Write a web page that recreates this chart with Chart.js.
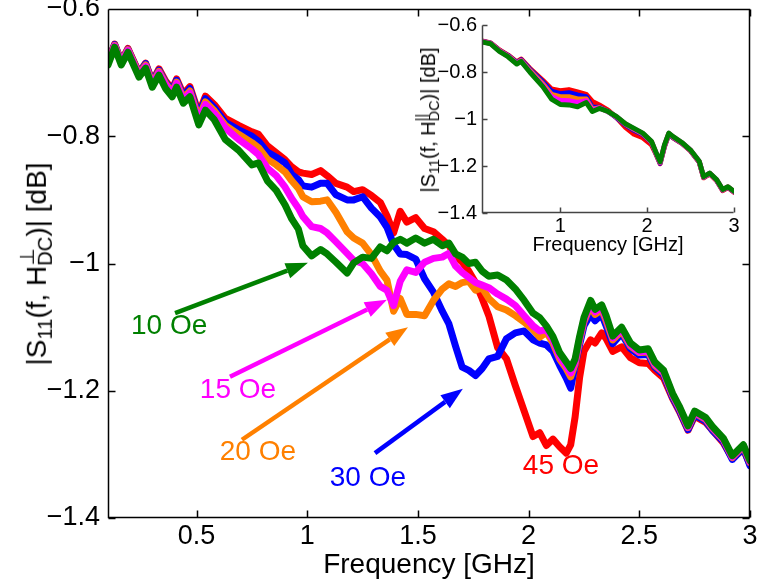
<!DOCTYPE html>
<html lang="en">
<head>
  <meta charset="UTF-8" />
  <title>|S11| versus frequency</title>
  <script src="https://cdn.jsdelivr.net/npm/chart.js"></script>
  <style>
    html, body { margin: 0; padding: 0; background: #fff; }
    #wrap {
      position: relative;
      width: 760px;
      height: 586px;
      font-family: "Liberation Sans", Arial, Helvetica, sans-serif;
      color: #000;
    }
    #mainChart { position: absolute; left: 0; top: 0; }
    #insetChart { position: absolute; left: 400px; top: 0; }
    .ylab {
      position: absolute;
      white-space: nowrap;
      line-height: 1;
      transform: translate(-50%, -50%) rotate(-90deg);
    }
    .ylab sub { font-size: 0.72em; vertical-align: -0.3em; line-height: 0; }
    .stk {
      display: inline-block;
      font-size: 0.72em;
      line-height: 0.9;
      vertical-align: -0.3em;
      text-align: left;
    }
    .stk span { display: block; }
  </style>
</head>
<body>
<div id="wrap">
  <canvas id="mainChart" width="760" height="586"></canvas>
  <canvas id="insetChart" width="360" height="270"></canvas>
  <div class="ylab" style="left:36px; top:264px; font-size:28px;">|S<sub>11</sub>(f, H<span class="stk"><span>⊥</span><span>DC</span></span>)| [dB]</div>
  <div class="ylab" style="left:428px; top:120px; font-size:20px;">|S<sub>11</sub>(f, H<span class="stk"><span>||</span><span>DC</span></span>)| [dB]</div>
</div>

<script>
  // ---- main plot: perpendicular field ----
  const freqGHz = [0.10,0.13,0.16,0.19,0.24,0.27,0.30,0.33,0.36,0.39,
    0.41,0.44,0.47,0.51,0.54,0.58,0.63,0.69,0.75,0.78,
    0.82,0.86,0.90,0.93,0.96,0.98,1.02,1.06,1.09,1.13,
    1.18,1.21,1.25,1.29,1.33,1.36,1.39,1.42,1.45,1.49,
    1.53,1.57,1.61,1.64,1.67,1.70,1.73,1.76,1.79,1.82,
    1.86,1.90,1.94,1.98,2.02,2.05,2.08,2.11,2.14,2.17,
    2.19,2.21,2.23,2.25,2.28,2.30,2.33,2.35,2.38,2.42,
    2.46,2.50,2.54,2.57,2.61,2.65,2.68,2.72,2.75,2.80,
    2.83,2.88,2.92,2.97,3.00];

  const s10Oe = [-0.688,-0.660,-0.688,-0.668,-0.707,-0.693,-0.723,-0.704,-0.725,-0.738,
    -0.723,-0.748,-0.738,-0.782,-0.759,-0.774,-0.805,-0.822,-0.845,-0.842,
    -0.870,-0.885,-0.908,-0.930,-0.946,-0.972,-0.988,-0.978,-0.985,-0.998,
    -1.015,-0.999,-0.990,-0.992,-0.974,-0.980,-0.967,-0.962,-0.968,-0.960,
    -0.968,-0.962,-0.972,-0.968,-0.985,-0.990,-1.000,-0.998,-1.012,-1.020,
    -1.018,-1.026,-1.040,-1.058,-1.078,-1.085,-1.098,-1.115,-1.140,-1.155,
    -1.165,-1.150,-1.115,-1.085,-1.058,-1.072,-1.065,-1.082,-1.114,-1.100,
    -1.125,-1.136,-1.134,-1.155,-1.168,-1.204,-1.224,-1.255,-1.232,-1.242,
    -1.256,-1.275,-1.302,-1.285,-1.310];

  const s15Oe = [-0.685,-0.658,-0.685,-0.665,-0.704,-0.690,-0.719,-0.700,-0.719,-0.733,
    -0.717,-0.743,-0.732,-0.775,-0.750,-0.764,-0.787,-0.805,-0.820,-0.829,
    -0.850,-0.862,-0.880,-0.898,-0.913,-0.926,-0.942,-0.945,-0.952,-0.966,
    -0.984,-0.995,-1.000,-1.016,-1.036,-1.042,-1.066,-1.028,-1.010,-1.014,
    -0.998,-0.992,-0.990,-0.984,-1.004,-1.014,-1.022,-1.030,-1.034,-1.038,
    -1.048,-1.056,-1.066,-1.082,-1.098,-1.106,-1.104,-1.120,-1.146,-1.161,
    -1.172,-1.155,-1.119,-1.089,-1.062,-1.076,-1.069,-1.086,-1.117,-1.103,
    -1.128,-1.139,-1.137,-1.158,-1.171,-1.206,-1.226,-1.257,-1.234,-1.244,
    -1.258,-1.277,-1.304,-1.286,-1.312];

  const s20Oe = [-0.684,-0.657,-0.684,-0.664,-0.702,-0.688,-0.717,-0.698,-0.717,-0.731,
    -0.715,-0.740,-0.729,-0.771,-0.746,-0.760,-0.783,-0.797,-0.810,-0.818,
    -0.836,-0.845,-0.856,-0.870,-0.882,-0.895,-0.903,-0.902,-0.900,-0.920,
    -0.950,-0.960,-0.968,-0.986,-1.012,-1.026,-1.075,-1.055,-1.080,-1.080,
    -1.082,-1.058,-1.040,-1.032,-1.036,-1.030,-1.028,-1.042,-1.038,-1.055,
    -1.068,-1.073,-1.082,-1.092,-1.104,-1.116,-1.108,-1.125,-1.150,-1.165,
    -1.178,-1.158,-1.122,-1.092,-1.066,-1.080,-1.073,-1.090,-1.120,-1.106,
    -1.130,-1.140,-1.139,-1.160,-1.172,-1.207,-1.227,-1.258,-1.235,-1.245,
    -1.259,-1.277,-1.305,-1.287,-1.313];

  const s30Oe = [-0.683,-0.656,-0.683,-0.663,-0.701,-0.686,-0.715,-0.696,-0.715,-0.728,
    -0.712,-0.737,-0.725,-0.767,-0.741,-0.755,-0.778,-0.790,-0.800,-0.808,
    -0.825,-0.833,-0.842,-0.860,-0.868,-0.878,-0.880,-0.874,-0.874,-0.892,
    -0.900,-0.900,-0.895,-0.913,-0.927,-0.943,-0.970,-0.985,-0.986,-0.993,
    -1.024,-1.045,-1.075,-1.095,-1.130,-1.163,-1.168,-1.176,-1.165,-1.150,
    -1.146,-1.118,-1.109,-1.106,-1.120,-1.125,-1.128,-1.138,-1.160,-1.180,
    -1.196,-1.160,-1.128,-1.098,-1.080,-1.090,-1.080,-1.098,-1.126,-1.110,
    -1.134,-1.144,-1.143,-1.163,-1.175,-1.210,-1.230,-1.261,-1.238,-1.248,
    -1.262,-1.280,-1.308,-1.290,-1.318];

  const s45Oe = [-0.682,-0.655,-0.682,-0.662,-0.700,-0.685,-0.714,-0.694,-0.713,-0.726,
    -0.710,-0.734,-0.722,-0.764,-0.737,-0.750,-0.772,-0.783,-0.793,-0.797,
    -0.815,-0.826,-0.837,-0.848,-0.856,-0.858,-0.860,-0.854,-0.862,-0.874,
    -0.880,-0.887,-0.884,-0.893,-0.904,-0.925,-0.952,-0.918,-0.935,-0.928,
    -0.945,-0.950,-0.962,-0.972,-0.988,-0.998,-1.012,-1.030,-1.055,-1.082,
    -1.132,-1.150,-1.192,-1.232,-1.272,-1.266,-1.286,-1.276,-1.288,-1.298,
    -1.285,-1.241,-1.180,-1.138,-1.120,-1.125,-1.109,-1.118,-1.138,-1.131,
    -1.148,-1.156,-1.157,-1.168,-1.180,-1.212,-1.232,-1.262,-1.240,-1.250,
    -1.262,-1.282,-1.306,-1.292,-1.316];

  // ---- inset: parallel field ----
  const insetFreq = [0.10,0.20,0.30,0.40,0.50,0.55,0.65,0.80,0.90,1.00,
    1.10,1.20,1.30,1.37,1.45,1.55,1.65,1.75,1.85,1.95,
    2.05,2.10,2.15,2.20,2.25,2.30,2.40,2.50,2.60,2.65,
    2.72,2.80,2.87,2.93,3.00];
  const in10Oe = [-0.672,-0.680,-0.712,-0.735,-0.766,-0.755,-0.800,-0.862,-0.915,-0.938,
    -0.940,-0.948,-0.930,-0.968,-0.955,-0.968,-0.990,-1.020,-1.040,-1.060,
    -1.095,-1.140,-1.182,-1.110,-1.060,-1.075,-1.100,-1.132,-1.180,-1.245,
    -1.230,-1.258,-1.300,-1.288,-1.308];
  const in15Oe = [-0.671,-0.679,-0.710,-0.733,-0.764,-0.753,-0.797,-0.856,-0.905,-0.920,
    -0.922,-0.930,-0.922,-0.962,-0.953,-0.968,-0.991,-1.021,-1.042,-1.062,
    -1.096,-1.141,-1.184,-1.112,-1.061,-1.076,-1.101,-1.133,-1.181,-1.246,
    -1.231,-1.259,-1.301,-1.289,-1.309];
  const in20Oe = [-0.670,-0.678,-0.709,-0.732,-0.762,-0.751,-0.793,-0.850,-0.895,-0.905,
    -0.905,-0.915,-0.915,-0.958,-0.952,-0.968,-0.992,-1.022,-1.044,-1.063,
    -1.098,-1.143,-1.185,-1.113,-1.062,-1.077,-1.102,-1.134,-1.182,-1.247,
    -1.231,-1.260,-1.302,-1.289,-1.309];
  const in30Oe = [-0.669,-0.677,-0.708,-0.730,-0.760,-0.748,-0.788,-0.842,-0.882,-0.892,
    -0.888,-0.898,-0.905,-0.950,-0.950,-0.968,-0.995,-1.025,-1.048,-1.066,
    -1.100,-1.145,-1.188,-1.115,-1.064,-1.079,-1.103,-1.135,-1.183,-1.248,
    -1.232,-1.261,-1.303,-1.290,-1.310];
  const in45Oe = [-0.668,-0.676,-0.706,-0.728,-0.757,-0.745,-0.784,-0.835,-0.872,-0.880,
    -0.875,-0.885,-0.895,-0.925,-0.940,-0.962,-0.995,-1.035,-1.065,-1.080,
    -1.110,-1.148,-1.190,-1.118,-1.065,-1.080,-1.104,-1.136,-1.184,-1.250,
    -1.234,-1.262,-1.305,-1.292,-1.312];

  // ---- axes ----
  const xTicks = [0.5, 1, 1.5, 2, 2.5, 3];
  const yTicks = [-0.6, -0.8, -1, -1.2, -1.4];
  const insetXTicks = [1, 2, 3];

  // ---- series styling, drawn so 10 Oe ends on top ----
  const seriesNames = ['10 Oe', '15 Oe', '20 Oe', '30 Oe', '45 Oe'];
  const seriesColors = ['#008000', '#ff00ff', '#ff8000', '#0000ff', '#ff0000'];

  // ---- annotations (data units) ----
  const noteF  = [0.376, 0.687, 0.777, 1.274, 2.146];
  const noteDb = [-1.098, -1.199, -1.296, -1.337, -1.318];
  const arrowFromF  = [0.403, 0.651, 0.705, 1.306];
  const arrowFromDb = [-1.078, -1.178, -1.277, -1.298];
  const arrowToF    = [1.003, 1.360, 1.455, 1.703];
  const arrowToDb   = [-0.999, -1.057, -1.100, -1.197];

  Chart.defaults.font.family = "'Liberation Sans', Arial, Helvetica, sans-serif";
  Chart.defaults.color = '#000';

  const fmtDb = v => (v < 0 ? '\u2212' : '') + Math.abs(v);

  function pts(xs, ys) {
    return xs.map((x, i) => ({ x: x, y: ys[i] }));
  }

  // box + inward tick marks, MATLAB style
  const frame = {
    id: 'frame',
    afterDatasetsDraw(chart, args, opts) {
      const { ctx, chartArea: a, scales: { x, y } } = chart;
      const L = opts.tickLen;
      const l = Math.round(a.left) + 0.5, r = Math.round(a.right) - 0.5;
      const t = Math.round(a.top) + 0.5, b = Math.round(a.bottom) - 0.5;
      ctx.save();
      ctx.strokeStyle = opts.color;
      ctx.lineWidth = opts.width;
      ctx.beginPath();
      ctx.moveTo(l, t); ctx.lineTo(l, b); ctx.lineTo(r, b);
      if (opts.box) { ctx.lineTo(r, t); ctx.lineTo(l, t); }
      opts.xt.forEach(v => {
        const px = Math.round(x.getPixelForValue(v)) + 0.5;
        ctx.moveTo(px, b); ctx.lineTo(px, b - L);
        if (opts.box) { ctx.moveTo(px, t); ctx.lineTo(px, t + L); }
      });
      opts.yt.forEach(v => {
        const py = Math.round(y.getPixelForValue(v)) + 0.5;
        ctx.moveTo(l, py); ctx.lineTo(l + L, py);
        if (opts.box) { ctx.moveTo(r, py); ctx.lineTo(r - L, py); }
      });
      ctx.stroke();
      ctx.restore();
    }
  };

  const notes = {
    id: 'notes',
    afterDatasetsDraw(chart, args, opts) {
      if (!opts.show) return;
      const { ctx, scales: { x, y } } = chart;
      ctx.save();
      // arrows
      arrowFromF.forEach((f0, i) => {
        const x0 = x.getPixelForValue(f0), y0 = y.getPixelForValue(arrowFromDb[i]);
        const x1 = x.getPixelForValue(arrowToF[i]), y1 = y.getPixelForValue(arrowToDb[i]);
        const ang = Math.atan2(y1 - y0, x1 - x0);
        const head = 22, half = 8;
        const bx = x1 - head * Math.cos(ang), by = y1 - head * Math.sin(ang);
        ctx.strokeStyle = seriesColors[i];
        ctx.fillStyle = seriesColors[i];
        ctx.lineWidth = 4.5;
        ctx.beginPath();
        ctx.moveTo(x0, y0); ctx.lineTo(bx, by);
        ctx.stroke();
        ctx.beginPath();
        ctx.moveTo(x1, y1);
        ctx.lineTo(bx + half * Math.sin(ang), by - half * Math.cos(ang));
        ctx.lineTo(bx - half * Math.sin(ang), by + half * Math.cos(ang));
        ctx.closePath();
        ctx.fill();
      });
      // labels
      ctx.font = "28px 'Liberation Sans', Arial, sans-serif";
      ctx.textAlign = 'center';
      ctx.textBaseline = 'middle';
      seriesNames.forEach((name, i) => {
        ctx.fillStyle = seriesColors[i];
        ctx.fillText(name, x.getPixelForValue(noteF[i]), y.getPixelForValue(noteDb[i]));
      });
      ctx.restore();
    }
  };

  function makeSets(xs, ys, width) {
    return ys.map((arr, i) => ({
      label: seriesNames[i],
      data: pts(xs, arr),
      borderColor: seriesColors[i],
      backgroundColor: seriesColors[i],
      borderWidth: width,
      borderJoinStyle: 'round',
      borderCapStyle: 'round',
      pointRadius: 0,
      tension: 0,
      fill: false
    }));
  }

  new Chart(document.getElementById('mainChart'), {
    type: 'line',
    data: { datasets: makeSets(freqGHz, [s10Oe, s15Oe, s20Oe, s30Oe, s45Oe], 7) },
    options: {
      responsive: false,
      animation: false,
      devicePixelRatio: 1,
      layout: { padding: { left: 0, right: 10, top: 9, bottom: 0 } },
      plugins: {
        legend: { display: false },
        tooltip: { enabled: false },
        frame: { tickLen: 7, color: '#000', width: 1.5, box: true, xt: xTicks, yt: yTicks },
        notes: { show: true }
      },
      scales: {
        x: {
          type: 'linear', min: 0.1, max: 3,
          grid: { display: false, drawTicks: false },
          border: { display: false },
          afterBuildTicks: s => { s.ticks = xTicks.map(v => ({ value: v })); },
          afterFit: s => { s.height = 68; s.paddingLeft = 0; s.paddingRight = 0; },
          ticks: { font: { size: 27 }, padding: 2, maxRotation: 0, autoSkip: false, callback: v => String(v) },
          title: { display: true, text: 'Frequency [GHz]', font: { size: 28 }, padding: { top: 0, bottom: 4 } }
        },
        y: {
          type: 'linear', min: -1.4, max: -0.6,
          grid: { display: false, drawTicks: false },
          border: { display: false },
          afterBuildTicks: s => { s.ticks = yTicks.map(v => ({ value: v })); },
          afterFit: s => { s.width = 108; s.paddingTop = 0; s.paddingBottom = 0; },
          ticks: { font: { size: 27 }, padding: 8, autoSkip: false, callback: fmtDb }
        }
      }
    },
    plugins: [frame, notes]
  });

  new Chart(document.getElementById('insetChart'), {
    type: 'line',
    data: { datasets: makeSets(insetFreq, [in10Oe, in15Oe, in20Oe, in30Oe, in45Oe], 5) },
    options: {
      responsive: false,
      animation: false,
      devicePixelRatio: 1,
      layout: { padding: { left: 0, right: 26, top: 25, bottom: 0 } },
      plugins: {
        legend: { display: false },
        tooltip: { enabled: false },
        frame: { tickLen: 5, color: '#444', width: 1.5, box: false, xt: insetXTicks, yt: yTicks },
        notes: { show: false }
      },
      scales: {
        x: {
          type: 'linear', min: 0.1, max: 3,
          grid: { display: false, drawTicks: false },
          border: { display: false },
          afterBuildTicks: s => { s.ticks = insetXTicks.map(v => ({ value: v })); },
          afterFit: s => { s.height = 57; s.paddingLeft = 0; s.paddingRight = 0; },
          ticks: { font: { size: 20 }, padding: 1, maxRotation: 0, autoSkip: false, callback: v => String(v) },
          title: { display: true, text: 'Frequency [GHz]', font: { size: 20 }, padding: { top: 0, bottom: 13 } }
        },
        y: {
          type: 'linear', min: -1.4, max: -0.6,
          grid: { display: false, drawTicks: false },
          border: { display: false },
          afterBuildTicks: s => { s.ticks = yTicks.map(v => ({ value: v })); },
          afterFit: s => { s.width = 82; s.paddingTop = 0; s.paddingBottom = 0; },
          ticks: { font: { size: 20 }, padding: 5, autoSkip: false, callback: fmtDb }
        }
      }
    },
    plugins: [frame, notes]
  });
</script>
</body>
</html>
